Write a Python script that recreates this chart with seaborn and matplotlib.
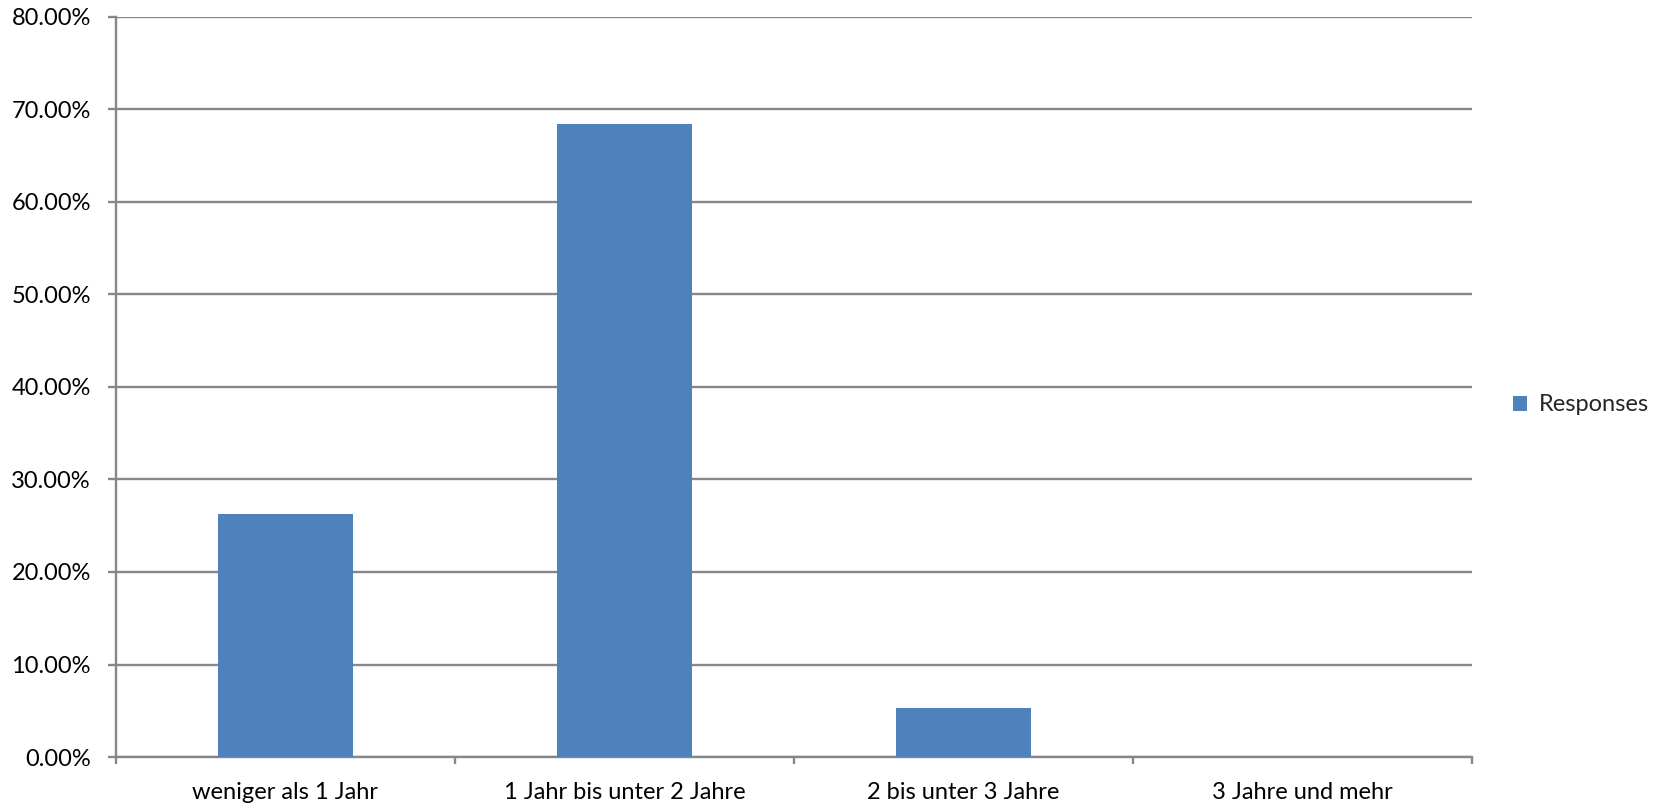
import numpy as np
import pandas as pd
import matplotlib
matplotlib.use("Agg")
import matplotlib.pyplot as plt
import seaborn as sns
from matplotlib.ticker import FuncFormatter, FixedLocator

# data
categories = ["weniger als 1 Jahr", "1 Jahr bis unter 2 Jahre", "2 bis unter 3 Jahre", "3 Jahre und mehr"]
responses = [26.32, 68.42, 5.26, 0.0]
series_name = "Responses"

df = pd.DataFrame({"category": categories, "value": responses})

sns.set_style("white")
plt.rcParams['font.family'] = ['Lato', 'DejaVu Sans']

grid_col = "#878787"
bar_col = "#4F81BD"
fs = 17

fig = plt.figure(figsize=(16.64, 8.07), dpi=100)
ax = fig.add_axes([116 / 1664, 1 - 757 / 807, (1472 - 116) / 1664, (757 - 17) / 807])

sns.barplot(data=df, x="category", y="value", color=bar_col, width=0.4,
            saturation=1, label=series_name, ax=ax, zorder=3, linewidth=0)

ax.set_xlim(-0.5, len(categories) - 0.5)
ax.set_ylim(0, 80)
ax.set_yticks(np.arange(0, 81, 10))
ax.yaxis.set_major_formatter(FuncFormatter(lambda v, p: f"{v:.2f}%"))
ax.grid(axis="y", color=grid_col, linewidth=1.7, zorder=0)
ax.set_xlabel("")
ax.set_ylabel("")

for s in ["top", "right"]:
    ax.spines[s].set_visible(False)
for s in ["left", "bottom"]:
    ax.spines[s].set_color(grid_col)
    ax.spines[s].set_linewidth(1.7)

ax.tick_params(axis="y", which="major", length=6, width=1.7, color=grid_col,
               labelsize=fs, pad=12, left=True, labelcolor="black")
ax.tick_params(axis="x", which="major", length=0, labelsize=fs, pad=18, labelcolor="black")
ax.xaxis.set_minor_locator(FixedLocator(np.arange(-0.5, len(categories), 1.0)))
ax.tick_params(axis="x", which="minor", length=5, width=1.7, color=grid_col, bottom=True)

leg = ax.legend(loc="center left", bbox_to_anchor=(1513 / 1664, 1 - 405 / 807),
                bbox_transform=fig.transFigure, frameon=False, fontsize=fs,
                borderaxespad=0, borderpad=0,
                handlelength=0.6, handleheight=0.6, handletextpad=0.5)

fig.savefig("out.png", dpi=100)
